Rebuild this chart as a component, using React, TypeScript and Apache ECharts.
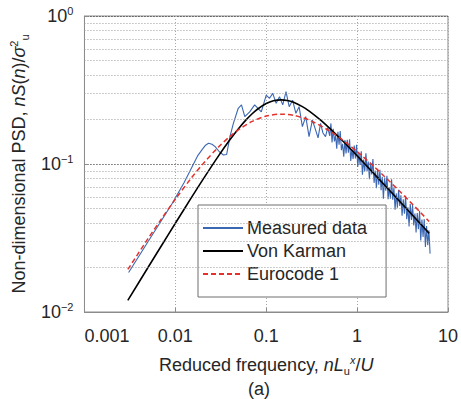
import React, { useEffect, useRef } from 'react';
import * as echarts from 'echarts';

const xTickLabels = ['0.001', '0.01', '0.1', '1', '10'];
const minorGridY = [0.02, 0.03, 0.04, 0.05, 0.06, 0.07, 0.08, 0.09, 0.2, 0.3, 0.4, 0.5, 0.6, 0.7, 0.8, 0.9];

const measuredF = [
  0.00306, 0.005, 0.00927, 0.0125, 0.0153, 0.0175, 0.0196, 0.0215, 0.0232, 0.0253, 0.0274, 0.0305, 0.0338, 0.0367,
  0.0399, 0.0435, 0.0492, 0.0534, 0.0581, 0.0658, 0.0746, 0.0811, 0.0882, 0.1, 0.1087, 0.118, 0.1286, 0.14, 0.152,
  0.165, 0.179, 0.195, 0.212, 0.23, 0.25, 0.272, 0.296, 0.322, 0.349, 0.372, 0.396, 0.421, 0.449, 0.475,
  0.5, 0.515, 0.53, 0.546, 0.563, 0.58, 0.597, 0.615, 0.633, 0.652, 0.672, 0.692, 0.713, 0.734, 0.756, 0.779, 0.802,
  0.826, 0.851, 0.877, 0.903, 0.93, 0.958, 0.987, 1.016, 1.047, 1.078, 1.111, 1.144, 1.178, 1.214, 1.25, 1.288, 1.326,
  1.366, 1.407, 1.449, 1.493, 1.537, 1.583, 1.631, 1.68, 1.73, 1.782, 1.836, 1.891, 1.947, 2.006, 2.066, 2.128, 2.192,
  2.258, 2.325, 2.395, 2.467, 2.541, 2.617, 2.696, 2.776, 2.86, 2.945, 3.034, 3.125, 3.219, 3.315, 3.415, 3.517, 3.623,
  3.731, 3.843, 3.959, 4.077, 4.2, 4.326, 4.455, 4.589, 4.727, 4.868, 5.014, 5.165, 5.32, 5.479, 5.644, 5.813, 5.987,
  6.167, 6.352,
];
const measuredV = [
  0.0185, 0.0298, 0.0543, 0.075, 0.0959, 0.113, 0.1245, 0.134, 0.138, 0.136, 0.131, 0.121, 0.115, 0.116,
  0.153, 0.188, 0.238, 0.251, 0.209, 0.225, 0.251, 0.238, 0.225, 0.292, 0.278, 0.3, 0.257, 0.285, 0.251,
  0.308, 0.244, 0.27, 0.22, 0.244, 0.179, 0.209, 0.153, 0.198, 0.17, 0.15, 0.188, 0.162, 0.153, 0.176,
  0.155, 0.188, 0.14, 0.173, 0.142, 0.156, 0.127, 0.165, 0.135, 0.167, 0.124, 0.137, 0.112, 0.145, 0.118, 0.146, 0.119,
  0.147, 0.105, 0.126, 0.108, 0.133, 0.109, 0.135, 0.0955, 0.118, 0.0986, 0.122, 0.0845, 0.107, 0.0891, 0.118, 0.0897, 0.104,
  0.0789, 0.102, 0.0851, 0.108, 0.0746, 0.0904, 0.0687, 0.0929, 0.0724, 0.0914, 0.0665, 0.082, 0.0583, 0.0809, 0.0659, 0.0834, 0.0578,
  0.0697, 0.0582, 0.0789, 0.0573, 0.0692, 0.0491, 0.0634, 0.0506, 0.067, 0.0521, 0.0615, 0.0447, 0.0578, 0.0461, 0.061, 0.0423, 0.0509,
  0.0379, 0.0537, 0.0418, 0.0528, 0.0385, 0.0463, 0.0344, 0.0467, 0.0363, 0.0481, 0.0304, 0.0421, 0.0321, 0.0424, 0.0275, 0.0381, 0.0283,
  0.0357, 0.0248,
];

const vonKarmanF = [0.003, 0.005, 0.007, 0.01, 0.015, 0.02, 0.03, 0.04, 0.05, 0.06, 0.07, 0.08, 0.1, 0.12, 0.146, 0.17, 0.2, 0.25, 0.3, 0.4, 0.5, 0.7, 1, 1.5, 2, 3, 4, 5, 6.2];
const vonKarmanV = [0.01199, 0.01997, 0.02792, 0.03977, 0.05921, 0.07816, 0.114, 0.1463, 0.1746, 0.1986, 0.2185, 0.2344, 0.256, 0.2672, 0.2713, 0.2688, 0.2612, 0.2443, 0.2271, 0.1973, 0.1742, 0.1424, 0.1136, 0.0872, 0.0722, 0.0552, 0.0456, 0.0393, 0.034];

const eurocodeF = [0.003, 0.005, 0.007, 0.01, 0.015, 0.02, 0.03, 0.04, 0.05, 0.07, 0.1, 0.147, 0.2, 0.3, 0.5, 0.7, 1, 1.5, 2, 3, 4, 5, 6.2];
const eurocodeV = [0.0194, 0.0313, 0.0424, 0.0578, 0.0805, 0.0998, 0.1307, 0.1538, 0.1711, 0.1939, 0.2107, 0.2172, 0.2132, 0.1974, 0.167, 0.1445, 0.1213, 0.0973, 0.0824, 0.0646, 0.054, 0.0469, 0.0409];

const FONT = '"Liberation Sans", Arial, Helvetica, sans-serif';
const INK = '#262626';

export default function App() {
  const ref = useRef<HTMLDivElement>(null);
  useEffect(() => {
    if (!ref.current) return;
    const chart = echarts.init(ref.current, undefined, { renderer: 'svg' });
    const pair = (xs: number[], ys: number[]) => xs.map((x, i) => [x, ys[i]]);
    chart.setOption({
      animation: false,
      backgroundColor: '#ffffff',
      textStyle: { fontFamily: FONT },
      grid: {
        left: 81, right: 12, top: 16, bottom: 87,
        show: true, borderColor: '#8c8c8c', borderWidth: 1, backgroundColor: 'transparent',
      },
      legend: {
        data: ['Measured data', 'Von Karman', 'Eurocode 1'],
        orient: 'vertical',
        left: 198, top: 205,
        padding: [14, 19, 14, 4],
        itemWidth: 40, itemHeight: 14, itemGap: 5,
        itemStyle: { opacity: 0 },
        borderColor: '#6e6e6e', borderWidth: 1, backgroundColor: '#ffffff',
        textStyle: { fontSize: 18, color: INK, fontFamily: FONT, padding: [0, 0, 0, -1] },
      },
      xAxis: {
        type: 'log', logBase: 10, min: 0.001, max: 10,
        name: 'Reduced frequency, {i|nL}{sub|u}{sup|x}{n|/}{i|U}',
        nameLocation: 'middle', nameGap: 42,
        nameTextStyle: {
          fontSize: 18, color: INK, lineHeight: 22,
          rich: {
            i: { fontSize: 18, fontStyle: 'italic', color: INK, lineHeight: 22 },
            n: { fontSize: 18, color: INK, lineHeight: 22 },
            sub: { fontSize: 11, color: INK, verticalAlign: 'bottom', lineHeight: 11 },
            sup: { fontSize: 11, fontStyle: 'italic', color: INK, verticalAlign: 'top', lineHeight: 11 },
          },
        },
        axisLine: { show: true, lineStyle: { color: '#8c8c8c' } },
        axisTick: { show: true, inside: true, length: 4, lineStyle: { color: '#8c8c8c' } },
        minorTick: { show: false },
        axisLabel: {
          fontSize: 18, color: INK, margin: 15, alignMinLabel: 'left',
          showMinLabel: true, showMaxLabel: true, hideOverlap: false,
          formatter: (v: number) => xTickLabels[Math.round(Math.log10(v)) + 3] ?? '',
        },
        splitLine: { show: true, lineStyle: { color: '#a6a6a6', type: [1, 2], width: 1 } },
      },
      yAxis: {
        type: 'log', logBase: 10, min: 0.01, max: 1,
        name: 'Non-dimensional PSD, {i|nS}({i|n})/{i|σ}{sup|2}{sub|u}',
        nameLocation: 'middle', nameGap: 45, nameRotate: 90,
        nameTextStyle: {
          fontSize: 18, color: INK, lineHeight: 22,
          rich: {
            i: { fontSize: 18, fontStyle: 'italic', color: INK, lineHeight: 22 },
            sub: { fontSize: 11, color: INK, verticalAlign: 'bottom', lineHeight: 11 },
            sup: { fontSize: 11, color: INK, verticalAlign: 'top', lineHeight: 11 },
          },
        },
        axisLine: { show: true, lineStyle: { color: '#8c8c8c' } },
        axisTick: { show: true, inside: true, length: 4, lineStyle: { color: '#8c8c8c' } },
        axisLabel: {
          margin: 11, color: INK,
          formatter: (v: number) => {
            const e = Math.round(Math.log10(v));
            return `{b|10}{s|${e < 0 ? '−' + -e : e}}`;
          },
          rich: {
            b: { fontSize: 18, color: INK, lineHeight: 22 },
            s: { fontSize: 11, color: INK, verticalAlign: 'top', lineHeight: 11 },
          },
        },
        splitLine: { show: true, lineStyle: { color: '#1a1a1a', type: [1, 2], width: 1 } },
      },
      series: [
        {
          name: 'grid-minor', type: 'line', data: [[1, 0.5]], showSymbol: false, symbol: 'none',
          lineStyle: { opacity: 0 }, z: 1, silent: true,
          markLine: {
            silent: true, symbol: 'none', label: { show: false },
            lineStyle: { color: '#9a9a9a', type: [1, 2], width: 1 },
            data: minorGridY.map((v) => ({ yAxis: v })),
          },
        },
        {
          name: 'Measured data', type: 'line', data: pair(measuredF, measuredV), symbol: 'none',
          lineStyle: { color: '#3b67b3', width: 1.1 }, itemStyle: { color: '#3b67b3' }, z: 3,
        },
        {
          name: 'Von Karman', type: 'line', data: pair(vonKarmanF, vonKarmanV), symbol: 'none', smooth: 0.3,
          lineStyle: { color: '#000000', width: 1.6 }, itemStyle: { color: '#000000' }, z: 4,
        },
        {
          name: 'Eurocode 1', type: 'line', data: pair(eurocodeF, eurocodeV), symbol: 'none', smooth: 0.3,
          lineStyle: { color: '#e3312b', width: 1.5, type: [5, 3] }, itemStyle: { color: '#e3312b' }, z: 5,
        },
      ],
      graphic: [
        { type: 'text', left: 248, top: 380, style: { text: '(a)', fontSize: 18, fill: INK, fontFamily: FONT } },
      ],
    });
    return () => chart.dispose();
  }, []);
  return <div ref={ref} style={{ position: 'absolute', left: 0, top: 0, width: 461, height: 399 }} />;
}
